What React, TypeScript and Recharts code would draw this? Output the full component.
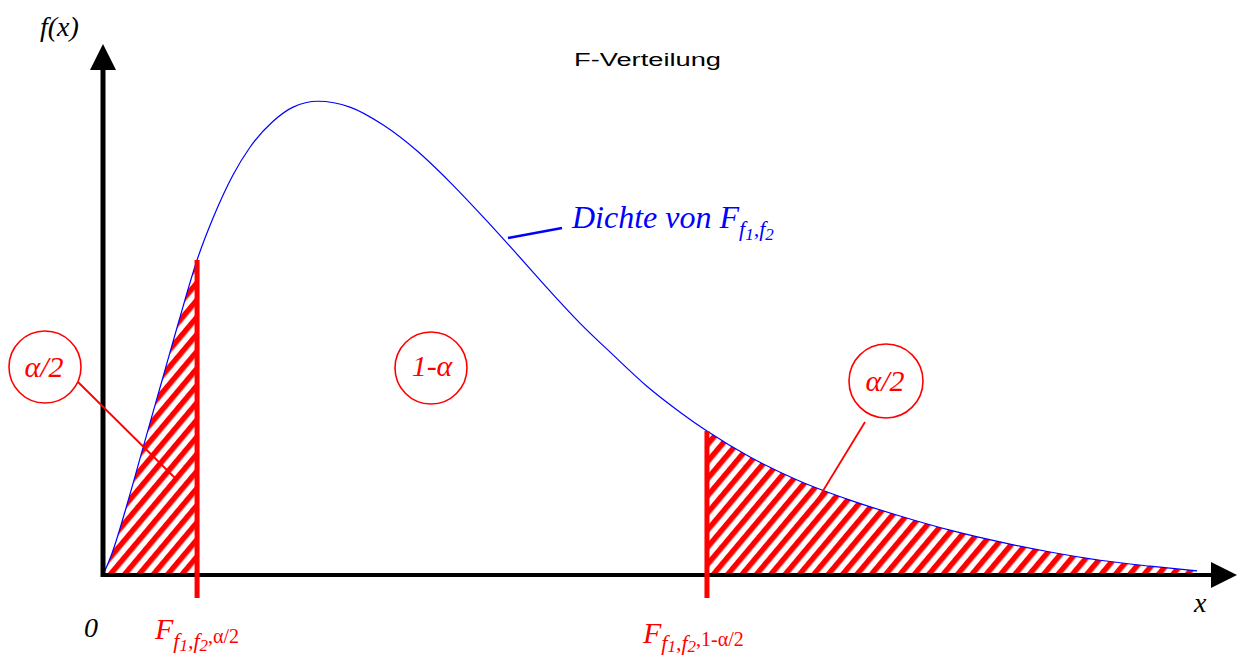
import {
  ComposedChart,
  Area,
  Line,
  XAxis,
  YAxis,
  ReferenceLine,
} from "recharts";

// density of F(f1, f2), sampled along x
const xs = [
  0, 0.043, 0.119, 0.19, 0.271, 0.357, 0.448, 0.524, 0.619, 0.7, 0.81, 0.905,
  1.024, 1.176, 1.333, 1.495, 1.652, 1.81, 1.971, 2.129, 2.271, 2.429, 2.59,
  2.748, 2.876, 3.081, 3.319, 3.557, 3.795, 4.033, 4.271, 4.51, 4.748, 4.986,
  5.21,
];
const density = [
  0, 0.037, 0.125, 0.215, 0.317, 0.425, 0.534, 0.605, 0.678, 0.725, 0.769,
  0.793, 0.803, 0.793, 0.763, 0.719, 0.666, 0.607, 0.544, 0.481, 0.427, 0.373,
  0.32, 0.276, 0.244, 0.2, 0.159, 0.127, 0.1, 0.076, 0.056, 0.039, 0.025,
  0.015, 0.007,
];

// quantiles F_{f1,f2,a/2} and F_{f1,f2,1-a/2}
const qLow = 0.448;
const qHigh = 2.876;

const X_MAX = 5.4;
const Y_MAX = 0.9;
const BAR_BOTTOM = -0.039;

const rows = xs.map((x, i) => ({
  x,
  f: density[i],
  lo: x <= qLow ? density[i] : null,
  hi: x >= qHigh ? density[i] : null,
}));

const fAt = (q: number) => density[xs.indexOf(q)];

const RED = "#ff0000";
const BLUE = "#0000ff";
const FONT = '"Liberation Serif", "Times New Roman", serif';
const italic = { fontFamily: FONT, fontStyle: "italic" } as const;
const upright = { fontFamily: FONT, fontStyle: "normal" } as const;

const xAxisArrow = (p: any) => (
  <g>
    <line x1={p.x1 - 2} y1={p.y1} x2={p.x2 - 20} y2={p.y2} stroke="#000" strokeWidth={4} />
    <polygon points={`${p.x2},${p.y2} ${p.x2 - 26},${p.y2 - 13} ${p.x2 - 26},${p.y2 + 13}`} fill="#000" />
  </g>
);

const yAxisArrow = (p: any) => (
  <g>
    <line x1={p.x1} y1={p.y1 + 2} x2={p.x2} y2={p.y2 + 20} stroke="#000" strokeWidth={5} />
    <polygon points={`${p.x2},${p.y2} ${p.x2 - 13},${p.y2 + 26} ${p.x2 + 13},${p.y2 + 26}`} fill="#000" />
  </g>
);

function Annotations() {
  return (
    <svg
      width={1241}
      height={657}
      style={{ position: "absolute", left: 0, top: 0, pointerEvents: "none" }}
    >
      <text x={40} y={36} style={italic} fontSize={28}>
        f(x)
      </text>
      <text
        x={574}
        y={66}
        style={{ fontFamily: '"Liberation Sans", Arial, sans-serif' }}
        fontSize={18}
        textLength={147}
        lengthAdjust="spacingAndGlyphs"
      >
        F-Verteilung
      </text>

      <line x1={508} y1={238} x2={562} y2={228} stroke={BLUE} strokeWidth={2.5} />
      <text x={572} y={228} fill={BLUE} style={italic} fontSize={32}>
        Dichte von F
        <tspan fontSize={22} dy={8}>f</tspan>
        <tspan fontSize={17} dy={4}>1</tspan>
        <tspan fontSize={22} dy={-4}>,f</tspan>
        <tspan fontSize={17} dy={4}>2</tspan>
      </text>

      <circle cx={45} cy={367} r={36} fill="none" stroke={RED} strokeWidth={1.6} />
      <text x={44} y={377} textAnchor="middle" fill={RED} style={italic} fontSize={30}>
        α/2
      </text>
      <line x1={78} y1={382} x2={175} y2={478} stroke={RED} strokeWidth={1.8} />

      <circle cx={431} cy={368} r={36} fill="none" stroke={RED} strokeWidth={1.6} />
      <text x={432} y={376} textAnchor="middle" fill={RED} style={italic} fontSize={30}>
        1-α
      </text>

      <circle cx={886} cy={381} r={37} fill="none" stroke={RED} strokeWidth={1.6} />
      <text x={885} y={391} textAnchor="middle" fill={RED} style={italic} fontSize={30}>
        α/2
      </text>
      <line x1={865} y1={422} x2={807} y2={517} stroke={RED} strokeWidth={1.8} />

      <text x={84} y={637} style={italic} fontSize={28}>
        0
      </text>
      <text x={1194} y={612} style={italic} fontSize={28}>
        x
      </text>

      <text x={155} y={639} fill={RED} style={italic} fontSize={30}>
        F
        <tspan fontSize={22} dy={9}>f</tspan>
        <tspan fontSize={17} dy={3}>1</tspan>
        <tspan fontSize={22} dy={-3}>,f</tspan>
        <tspan fontSize={17} dy={3}>2</tspan>
        <tspan fontSize={20} style={upright} dy={-8}>,α/2</tspan>
      </text>
      <text x={643} y={643} fill={RED} style={italic} fontSize={30}>
        F
        <tspan fontSize={22} dy={7}>f</tspan>
        <tspan fontSize={17} dy={2}>1</tspan>
        <tspan fontSize={22} dy={-2}>,f</tspan>
        <tspan fontSize={17} dy={2}>2</tspan>
        <tspan fontSize={20} style={upright} dy={-6}>,1-α/2</tspan>
      </text>
    </svg>
  );
}

export default function App() {
  return (
    <div style={{ position: "absolute", left: 0, top: 0, width: 1241, height: 657, background: "#fff" }}>
      <svg width={0} height={0} style={{ position: "absolute" }}>
        <defs>
          <pattern
            id="hatch"
            patternUnits="userSpaceOnUse"
            width={11}
            height={11}
            patternTransform="rotate(40)"
          >
            <rect x={0} y={0} width={5.5} height={11} fill={RED} />
          </pattern>
        </defs>
      </svg>
      <ComposedChart
        width={1241}
        height={657}
        data={rows}
        margin={{ top: 44, right: 4, bottom: 82, left: 103 }}
      >
        <XAxis dataKey="x" type="number" domain={[0, X_MAX]} hide allowDataOverflow />
        <YAxis type="number" domain={[0, Y_MAX]} hide allowDataOverflow />
        <Area
          type="monotone"
          dataKey="lo"
          stroke="none"
          fill="url(#hatch)"
          fillOpacity={1}
          baseValue={0}
          isAnimationActive={false}
        />
        <Area
          type="monotone"
          dataKey="hi"
          stroke="none"
          fill="url(#hatch)"
          fillOpacity={1}
          baseValue={0}
          isAnimationActive={false}
        />
        <Line
          type="monotone"
          dataKey="f"
          stroke={BLUE}
          strokeWidth={1.2}
          dot={false}
          activeDot={false}
          isAnimationActive={false}
        />
        <ReferenceLine
          segment={[{ x: 0, y: 0 }, { x: X_MAX, y: 0 }]}
          ifOverflow="visible"
          shape={xAxisArrow}
        />
        <ReferenceLine
          segment={[{ x: 0, y: 0 }, { x: 0, y: Y_MAX }]}
          ifOverflow="visible"
          shape={yAxisArrow}
        />
        <ReferenceLine
          segment={[{ x: qLow, y: BAR_BOTTOM }, { x: qLow, y: fAt(qLow) }]}
          ifOverflow="visible"
          stroke={RED}
          strokeWidth={5}
        />
        <ReferenceLine
          segment={[{ x: qHigh, y: BAR_BOTTOM }, { x: qHigh, y: fAt(qHigh) }]}
          ifOverflow="visible"
          stroke={RED}
          strokeWidth={5}
        />
      </ComposedChart>
      <Annotations />
    </div>
  );
}
